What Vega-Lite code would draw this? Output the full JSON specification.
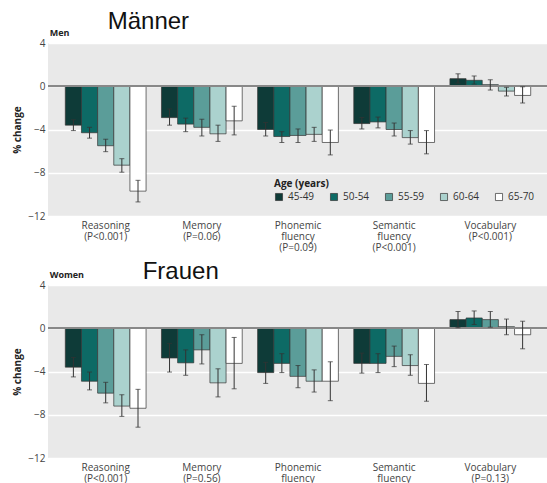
{
  "$schema": "https://vega.github.io/schema/vega-lite/v6.json",
  "background": "white",
  "padding": {"left": 12, "top": 10, "right": 0, "bottom": 0},
  "config": {
    "font": "Open Sans",
    "view": {"fill": "#e9e9e9", "stroke": null},
    "axis": {"labelFont": "Open Sans", "titleFont": "Open Sans"}
  },
  "datasets": {
    "men": [
      {"test": "Reasoning|(P<0.001)", "age": "45-49", "value": -3.6, "lo": -4.1, "hi": -3.1},
      {"test": "Reasoning|(P<0.001)", "age": "50-54", "value": -4.3, "lo": -4.8, "hi": -3.8},
      {"test": "Reasoning|(P<0.001)", "age": "55-59", "value": -5.5, "lo": -6.05, "hi": -4.9},
      {"test": "Reasoning|(P<0.001)", "age": "60-64", "value": -7.3, "lo": -7.95, "hi": -6.7},
      {"test": "Reasoning|(P<0.001)", "age": "65-70", "value": -9.7, "lo": -10.7, "hi": -8.7},
      {"test": "Memory|(P=0.06)", "age": "45-49", "value": -2.9, "lo": -3.6, "hi": -2.1},
      {"test": "Memory|(P=0.06)", "age": "50-54", "value": -3.5, "lo": -4.2, "hi": -2.95},
      {"test": "Memory|(P=0.06)", "age": "55-59", "value": -3.8, "lo": -4.6, "hi": -3.05},
      {"test": "Memory|(P=0.06)", "age": "60-64", "value": -4.4, "lo": -5.1, "hi": -3.6},
      {"test": "Memory|(P=0.06)", "age": "65-70", "value": -3.2, "lo": -4.5, "hi": -1.85},
      {"test": "Phonemic|fluency|(P=0.09)", "age": "45-49", "value": -4.0, "lo": -4.6, "hi": -3.35},
      {"test": "Phonemic|fluency|(P=0.09)", "age": "50-54", "value": -4.65, "lo": -5.2, "hi": -4.2},
      {"test": "Phonemic|fluency|(P=0.09)", "age": "55-59", "value": -4.55, "lo": -5.2, "hi": -3.95},
      {"test": "Phonemic|fluency|(P=0.09)", "age": "60-64", "value": -4.45, "lo": -5.1, "hi": -3.8},
      {"test": "Phonemic|fluency|(P=0.09)", "age": "65-70", "value": -5.2, "lo": -6.35, "hi": -4.05},
      {"test": "Semantic|fluency|(P<0.001)", "age": "45-49", "value": -3.45, "lo": -3.95, "hi": -2.9},
      {"test": "Semantic|fluency|(P<0.001)", "age": "50-54", "value": -3.3, "lo": -3.85, "hi": -2.85},
      {"test": "Semantic|fluency|(P<0.001)", "age": "55-59", "value": -4.0, "lo": -4.6, "hi": -3.4},
      {"test": "Semantic|fluency|(P<0.001)", "age": "60-64", "value": -4.75, "lo": -5.35, "hi": -4.1},
      {"test": "Semantic|fluency|(P<0.001)", "age": "65-70", "value": -5.2, "lo": -6.25, "hi": -4.1},
      {"test": "Vocabulary|(P<0.001)", "age": "45-49", "value": 0.7, "lo": 0.3, "hi": 1.15},
      {"test": "Vocabulary|(P<0.001)", "age": "50-54", "value": 0.55, "lo": 0.2, "hi": 0.95},
      {"test": "Vocabulary|(P<0.001)", "age": "55-59", "value": 0.15, "lo": -0.35, "hi": 0.6},
      {"test": "Vocabulary|(P<0.001)", "age": "60-64", "value": -0.45, "lo": -0.9, "hi": -0.1},
      {"test": "Vocabulary|(P<0.001)", "age": "65-70", "value": -0.85, "lo": -1.55, "hi": -0.05}
    ],
    "women": [
      {"test": "Reasoning|(P<0.001)", "age": "45-49", "value": -3.6, "lo": -4.5, "hi": -2.7},
      {"test": "Reasoning|(P<0.001)", "age": "50-54", "value": -4.9, "lo": -5.7, "hi": -4.05},
      {"test": "Reasoning|(P<0.001)", "age": "55-59", "value": -6.0, "lo": -6.9, "hi": -5.0},
      {"test": "Reasoning|(P<0.001)", "age": "60-64", "value": -7.2, "lo": -8.15, "hi": -6.15},
      {"test": "Reasoning|(P<0.001)", "age": "65-70", "value": -7.4, "lo": -9.15, "hi": -5.65},
      {"test": "Memory|(P=0.56)", "age": "45-49", "value": -2.75, "lo": -4.05, "hi": -1.4},
      {"test": "Memory|(P=0.56)", "age": "50-54", "value": -3.2, "lo": -4.35, "hi": -2.0},
      {"test": "Memory|(P=0.56)", "age": "55-59", "value": -2.0, "lo": -3.3, "hi": -0.6},
      {"test": "Memory|(P=0.56)", "age": "60-64", "value": -5.05, "lo": -6.35, "hi": -3.75},
      {"test": "Memory|(P=0.56)", "age": "65-70", "value": -3.25, "lo": -5.6, "hi": -0.85},
      {"test": "Phonemic|fluency", "age": "45-49", "value": -4.1, "lo": -5.1, "hi": -3.15},
      {"test": "Phonemic|fluency", "age": "50-54", "value": -3.25, "lo": -4.1, "hi": -2.35},
      {"test": "Phonemic|fluency", "age": "55-59", "value": -4.45, "lo": -5.5, "hi": -3.45},
      {"test": "Phonemic|fluency", "age": "60-64", "value": -4.9, "lo": -5.9, "hi": -3.85},
      {"test": "Phonemic|fluency", "age": "65-70", "value": -4.9, "lo": -6.7, "hi": -3.1},
      {"test": "Semantic|fluency", "age": "45-49", "value": -3.25, "lo": -4.15, "hi": -2.3},
      {"test": "Semantic|fluency", "age": "50-54", "value": -3.25, "lo": -4.1, "hi": -2.35},
      {"test": "Semantic|fluency", "age": "55-59", "value": -2.6, "lo": -3.55, "hi": -1.65},
      {"test": "Semantic|fluency", "age": "60-64", "value": -3.45, "lo": -4.35, "hi": -2.45},
      {"test": "Semantic|fluency", "age": "65-70", "value": -5.1, "lo": -6.75, "hi": -3.35},
      {"test": "Vocabulary|(P=0.13)", "age": "45-49", "value": 0.8, "lo": 0.05, "hi": 1.55},
      {"test": "Vocabulary|(P=0.13)", "age": "50-54", "value": 0.95, "lo": 0.35, "hi": 1.6},
      {"test": "Vocabulary|(P=0.13)", "age": "55-59", "value": 0.8, "lo": 0.1, "hi": 1.55},
      {"test": "Vocabulary|(P=0.13)", "age": "60-64", "value": 0.15, "lo": -0.6, "hi": 0.85},
      {"test": "Vocabulary|(P=0.13)", "age": "65-70", "value": -0.6, "lo": -1.9, "hi": 0.65}
    ]
  },
  "vconcat": [
    {
      "width": 500,
      "height": 173,
      "data": {"name": "men"},
      "encoding": {
        "x": {
          "field": "test", "type": "nominal", "sort": null,
          "scale": {"paddingInner": 0.16, "paddingOuter": 0.18},
          "axis": {"title": null, "labelAngle": 0, "ticks": false, "domain": false, "labelExpr": "split(datum.label, '|')", "labelFontSize": 10, "labelColor": "#444", "labelPadding": 4, "labelLineHeight": 11, "labelBaseline": "top"}
        },
        "y": {
          "field": "value", "type": "quantitative",
          "scale": {"domain": [-12, 4], "nice": false, "zero": false},
          "axis": {"title": "% change", "titleFontSize": 10, "titleFontWeight": "bold", "titleColor": "#222", "titlePadding": 5, "values": [4, 0, -4, -8, -12], "labelFontSize": 10, "labelColor": "#444", "labelPadding": 3, "ticks": false, "domain": false, "gridColor": "white", "gridWidth": 1.5, "gridOpacity": 1}
        }
      },
      "layer": [
        {
          "mark": {"type": "bar", "stroke": "#333", "strokeWidth": 0.7},
          "encoding": {
            "xOffset": {"field": "age", "type": "nominal", "sort": ["45-49", "50-54", "55-59", "60-64", "65-70"], "scale": {"paddingInner": 0, "paddingOuter": 0}},
            "color": {
              "field": "age", "type": "nominal",
              "scale": {"domain": ["45-49", "50-54", "55-59", "60-64", "65-70"], "range": ["#0e3b38", "#0d6a65", "#5b9d99", "#abd2ce", "#ffffff"]},
              "legend": {"title": "Age (years)", "orient": "none", "legendX": 226, "legendY": 136, "direction": "horizontal", "columns": 5, "titleFontSize": 10, "titleFontWeight": "bold", "titleColor": "#222", "titlePadding": 3, "labelFontSize": 10, "labelColor": "#333", "labelOffset": 4, "symbolType": "square", "symbolSize": 50, "symbolStrokeColor": "#333", "symbolStrokeWidth": 0.7, "columnPadding": 14}
            }
          }
        },
        {
          "mark": {"type": "rule", "color": "#888", "strokeWidth": 1.5},
          "encoding": {"y": {"datum": 0}, "x": {}}
        },
        {
          "mark": {"type": "rule", "color": "#333", "strokeWidth": 1},
          "encoding": {
            "xOffset": {"field": "age", "type": "nominal", "sort": ["45-49", "50-54", "55-59", "60-64", "65-70"]},
            "y": {"field": "lo", "type": "quantitative"}, "y2": {"field": "hi"}
          }
        },
        {
          "mark": {"type": "tick", "color": "#333", "size": 5, "thickness": 1},
          "encoding": {
            "xOffset": {"field": "age", "type": "nominal", "sort": ["45-49", "50-54", "55-59", "60-64", "65-70"]},
            "y": {"field": "lo", "type": "quantitative"}
          }
        },
        {
          "mark": {"type": "tick", "color": "#333", "size": 5, "thickness": 1},
          "encoding": {
            "xOffset": {"field": "age", "type": "nominal", "sort": ["45-49", "50-54", "55-59", "60-64", "65-70"]},
            "y": {"field": "hi", "type": "quantitative"}
          }
        },
        {
          "transform": [{"filter": "datum.age === '45-49' && datum.test === 'Reasoning|(P<0.001)'"}],
          "mark": {"type": "text", "font": "Liberation Sans", "fontSize": 24, "fill": "#111", "align": "left", "baseline": "alphabetic", "dx": 2, "dy": -14, "text": "Männer"},
          "encoding": {"y": {"datum": 4}}
        },
        {
          "transform": [{"filter": "datum.age === '45-49' && datum.test === 'Reasoning|(P<0.001)'"}],
          "mark": {"type": "text", "font": "Open Sans", "fontSize": 9, "fontWeight": "bold", "fill": "#222", "align": "left", "baseline": "alphabetic", "dx": -56, "dy": -7, "text": "Men"},
          "encoding": {"y": {"datum": 4}}
        }
      ]
    },
    {
      "width": 500,
      "height": 173,
      "data": {"name": "women"},
      "encoding": {
        "x": {
          "field": "test", "type": "nominal", "sort": null,
          "scale": {"paddingInner": 0.16, "paddingOuter": 0.18},
          "axis": {"title": null, "labelAngle": 0, "ticks": false, "domain": false, "labelExpr": "split(datum.label, '|')", "labelFontSize": 10, "labelColor": "#444", "labelPadding": 4, "labelLineHeight": 11, "labelBaseline": "top"}
        },
        "y": {
          "field": "value", "type": "quantitative",
          "scale": {"domain": [-12, 4], "nice": false, "zero": false},
          "axis": {"title": "% change", "titleFontSize": 10, "titleFontWeight": "bold", "titleColor": "#222", "titlePadding": 5, "values": [4, 0, -4, -8, -12], "labelFontSize": 10, "labelColor": "#444", "labelPadding": 3, "ticks": false, "domain": false, "gridColor": "white", "gridWidth": 1.5, "gridOpacity": 1}
        }
      },
      "layer": [
        {
          "mark": {"type": "bar", "stroke": "#333", "strokeWidth": 0.7},
          "encoding": {
            "xOffset": {"field": "age", "type": "nominal", "sort": ["45-49", "50-54", "55-59", "60-64", "65-70"], "scale": {"paddingInner": 0, "paddingOuter": 0}},
            "color": {
              "field": "age", "type": "nominal",
              "scale": {"domain": ["45-49", "50-54", "55-59", "60-64", "65-70"], "range": ["#0e3b38", "#0d6a65", "#5b9d99", "#abd2ce", "#ffffff"]},
              "legend": null
            }
          }
        },
        {
          "mark": {"type": "rule", "color": "#888", "strokeWidth": 1.5},
          "encoding": {"y": {"datum": 0}, "x": {}}
        },
        {
          "mark": {"type": "rule", "color": "#333", "strokeWidth": 1},
          "encoding": {
            "xOffset": {"field": "age", "type": "nominal", "sort": ["45-49", "50-54", "55-59", "60-64", "65-70"]},
            "y": {"field": "lo", "type": "quantitative"}, "y2": {"field": "hi"}
          }
        },
        {
          "mark": {"type": "tick", "color": "#333", "size": 5, "thickness": 1},
          "encoding": {
            "xOffset": {"field": "age", "type": "nominal", "sort": ["45-49", "50-54", "55-59", "60-64", "65-70"]},
            "y": {"field": "lo", "type": "quantitative"}
          }
        },
        {
          "mark": {"type": "tick", "color": "#333", "size": 5, "thickness": 1},
          "encoding": {
            "xOffset": {"field": "age", "type": "nominal", "sort": ["45-49", "50-54", "55-59", "60-64", "65-70"]},
            "y": {"field": "hi", "type": "quantitative"}
          }
        },
        {
          "transform": [{"filter": "datum.age === '45-49' && datum.test === 'Reasoning|(P<0.001)'"}],
          "mark": {"type": "text", "font": "Liberation Sans", "fontSize": 24, "fill": "#111", "align": "left", "baseline": "alphabetic", "dx": 37, "dy": -6, "text": "Frauen"},
          "encoding": {"y": {"datum": 4}}
        },
        {
          "transform": [{"filter": "datum.age === '45-49' && datum.test === 'Reasoning|(P<0.001)'"}],
          "mark": {"type": "text", "font": "Open Sans", "fontSize": 9, "fontWeight": "bold", "fill": "#222", "align": "left", "baseline": "alphabetic", "dx": -56, "dy": -7, "text": "Women"},
          "encoding": {"y": {"datum": 4}}
        }
      ]
    }
  ],
  "resolve": {"legend": {"color": "independent"}, "scale": {"x": "independent"}},
  "spacing": 8
}
